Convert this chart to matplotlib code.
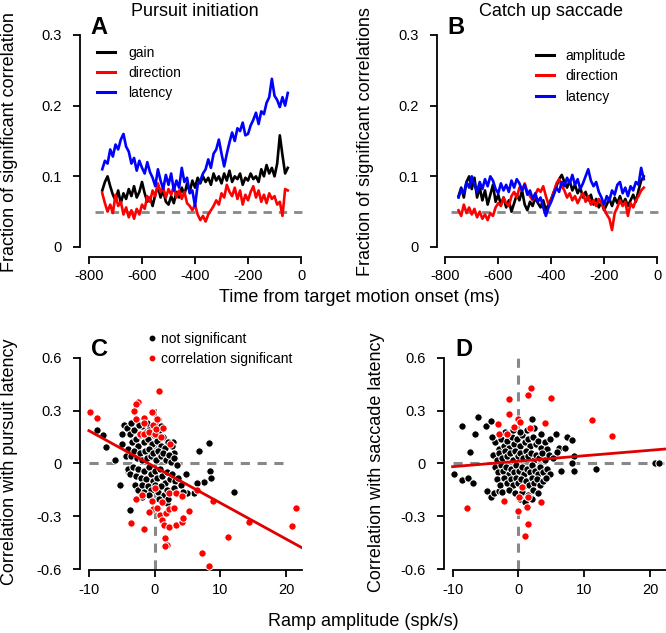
import matplotlib
matplotlib.use("Agg")
import matplotlib.pyplot as plt
from matplotlib.lines import Line2D
import numpy as np

plt.rcParams['font.family'] = ['Liberation Sans', 'DejaVu Sans']
plt.rcParams['axes.unicode_minus'] = False

W, H = 666, 633

# time axis of panels A and B (ms before target motion onset)
t_ms = np.arange(-750, -49, 10)

# panel A: pursuit initiation
a_gain = [0.080, 0.092, 0.100, 0.086, 0.074, 0.066, 0.080, 0.062, 0.076, 0.068,
          0.082, 0.072, 0.086, 0.070, 0.078, 0.092, 0.076, 0.064, 0.070, 0.058,
          0.074, 0.086, 0.070, 0.080, 0.064, 0.060, 0.072, 0.062, 0.078, 0.070,
          0.084, 0.074, 0.090, 0.078, 0.094, 0.084, 0.098, 0.090, 0.100, 0.092,
          0.098, 0.088, 0.104, 0.094, 0.100, 0.090, 0.104, 0.094, 0.108, 0.092,
          0.100, 0.096, 0.104, 0.088, 0.098, 0.094, 0.104, 0.096, 0.100, 0.092,
          0.110, 0.100, 0.116, 0.104, 0.112, 0.100, 0.118, 0.158, 0.130, 0.104,
          0.112]
a_direction = [0.076, 0.062, 0.050, 0.060, 0.048, 0.074, 0.058, 0.064, 0.046, 0.056,
               0.042, 0.052, 0.040, 0.054, 0.046, 0.060, 0.054, 0.072, 0.064, 0.080,
               0.072, 0.090, 0.078, 0.084, 0.070, 0.082, 0.074, 0.086, 0.070, 0.080,
               0.068, 0.078, 0.062, 0.058, 0.052, 0.060, 0.046, 0.038, 0.044, 0.036,
               0.046, 0.052, 0.058, 0.066, 0.060, 0.076, 0.070, 0.088, 0.078, 0.072,
               0.084, 0.068, 0.080, 0.060, 0.074, 0.066, 0.078, 0.086, 0.070, 0.080,
               0.064, 0.074, 0.062, 0.076, 0.068, 0.072, 0.060, 0.064, 0.044, 0.082,
               0.080]
a_latency = [0.110, 0.122, 0.118, 0.138, 0.128, 0.145, 0.138, 0.152, 0.160, 0.142,
             0.135, 0.118, 0.126, 0.108, 0.122, 0.112, 0.104, 0.120, 0.106, 0.098,
             0.086, 0.110, 0.094, 0.082, 0.102, 0.088, 0.104, 0.080, 0.094, 0.084,
             0.112, 0.092, 0.098, 0.076, 0.080, 0.058, 0.088, 0.094, 0.104, 0.110,
             0.124, 0.112, 0.132, 0.138, 0.152, 0.132, 0.114, 0.132, 0.148, 0.162,
             0.150, 0.168, 0.164, 0.176, 0.158, 0.160, 0.172, 0.180, 0.190, 0.174,
             0.192, 0.188, 0.204, 0.212, 0.238, 0.214, 0.208, 0.198, 0.212, 0.200,
             0.218]

# panel B: catch up saccade
b_amplitude = [0.072, 0.084, 0.070, 0.092, 0.100, 0.082, 0.098, 0.070, 0.084, 0.066,
               0.080, 0.060, 0.074, 0.088, 0.064, 0.074, 0.060, 0.070, 0.056, 0.066,
               0.050, 0.062, 0.074, 0.066, 0.080, 0.060, 0.052, 0.064, 0.058, 0.070,
               0.062, 0.056, 0.066, 0.052, 0.060, 0.068, 0.078, 0.086, 0.096, 0.102,
               0.092, 0.084, 0.094, 0.080, 0.088, 0.076, 0.084, 0.070, 0.078, 0.066,
               0.074, 0.060, 0.068, 0.056, 0.064, 0.052, 0.060, 0.068, 0.058, 0.070,
               0.062, 0.072, 0.060, 0.068, 0.058, 0.066, 0.074, 0.064, 0.080, 0.094,
               0.100]
b_direction = [0.052, 0.044, 0.060, 0.048, 0.056, 0.046, 0.054, 0.042, 0.050, 0.040,
               0.046, 0.038, 0.048, 0.044, 0.056, 0.062, 0.058, 0.070, 0.062, 0.058,
               0.072, 0.078, 0.070, 0.084, 0.080, 0.090, 0.078, 0.072, 0.066, 0.074,
               0.082, 0.078, 0.086, 0.072, 0.060, 0.066, 0.078, 0.090, 0.096, 0.086,
               0.080, 0.070, 0.076, 0.066, 0.072, 0.062, 0.070, 0.076, 0.064, 0.072,
               0.060, 0.066, 0.058, 0.068, 0.062, 0.054, 0.046, 0.040, 0.024, 0.048,
               0.056, 0.066, 0.058, 0.064, 0.044, 0.062, 0.056, 0.066, 0.072, 0.080,
               0.084]
b_latency = [0.070, 0.082, 0.076, 0.092, 0.084, 0.100, 0.088, 0.078, 0.092, 0.082,
             0.096, 0.086, 0.100, 0.094, 0.082, 0.076, 0.090, 0.080, 0.088, 0.078,
             0.094, 0.084, 0.096, 0.090, 0.080, 0.088, 0.074, 0.080, 0.068, 0.076,
             0.064, 0.070, 0.056, 0.044, 0.056, 0.064, 0.074, 0.084, 0.078, 0.092,
             0.086, 0.098, 0.090, 0.102, 0.088, 0.096, 0.082, 0.090, 0.100, 0.110,
             0.094, 0.086, 0.092, 0.078, 0.070, 0.060, 0.072, 0.066, 0.080, 0.074,
             0.088, 0.092, 0.076, 0.084, 0.072, 0.086, 0.080, 0.092, 0.088, 0.112,
             0.096]

chance_level = 0.05

# panel C: ramp amplitude vs correlation with pursuit latency
c_ns_x = [-8.7, -7.9, -7.4, -6.1, -5.3, -3.75, -4.6, -5.0, -4.9, -4.4, -4.0,
          6.7, 8.2, 8.4, 8.5, 12.0, 7.5, 6.5, 4.7, 6.0, 4.9, 1.9, 2.8, 0.5,
          -4.2, -3.8, -3.5, -3.2, -2.8, -2.5, -2.2, -1.9, -1.6, -1.3, -1.0, -0.7, -0.4, -0.1,
          0.3, 0.6, 0.9, 1.2, 1.6, 2.0, 2.6, 3.0,
          -4.0, -3.6, -3.1, -2.7, -2.3, -1.9, -1.5, -1.1, -0.8, -0.5, -0.2, 0.2, 0.5,
          0.9, 1.3, 1.7, 2.1, 2.5, 2.9, 3.4,
          -4.1, -3.7, -3.3, -2.9, -2.5, -2.1, -1.7, -1.3, -0.9, -0.6, -0.3, 0.1, 0.4,
          0.8, 1.1, 1.5, 1.9, 2.3, 2.7, 3.1, 3.6, 4.0,
          -3.0, -2.6, -2.0, -1.6, -1.0, -0.5, 0.0, 0.5, 1.0, 1.4, 1.9, 2.4, 2.9, 3.4, 4.3,
          -2.0, -0.8, 0.7, 2.0, -1.2, 0.2, -2.4, 1.0, -3.6]
c_ns_y = [0.19, 0.16, 0.095, 0.02, -0.12, -0.265, 0.22, 0.165, 0.11, 0.045, -0.04,
          0.07, 0.115, -0.04, -0.085, -0.16, -0.105, -0.11, -0.06, -0.17, -0.165, -0.225, 0.12, 0.255,
          0.20, 0.17, 0.12, 0.19, 0.14, 0.10, 0.16, 0.21, 0.12, 0.18, 0.14, 0.20, 0.11, 0.16,
          0.13, 0.19, 0.10, 0.15, 0.09, 0.12, 0.10, 0.06,
          0.08, 0.04, 0.07, 0.03, 0.06, 0.02, 0.07, 0.03, 0.08, 0.04, 0.06, 0.02, 0.07,
          0.04, 0.06, 0.02, 0.05, 0.01, 0.03, -0.01,
          -0.03, -0.06, -0.02, -0.07, -0.03, -0.08, -0.04, -0.09, -0.02, -0.06, -0.10, -0.04, -0.08,
          -0.03, -0.07, -0.11, -0.05, -0.09, -0.06, -0.10, -0.08, -0.12,
          -0.12, -0.15, -0.12, -0.16, -0.13, -0.15, -0.12, -0.16, -0.13, -0.18, -0.15, -0.17, -0.14, -0.17, -0.16,
          -0.19, -0.18, -0.20, -0.20, 0.23, 0.22, 0.22, 0.21, 0.23]
c_sig_x = [-9.9, -8.7, 0.7, -2.6, -2.8, -3.1, -2.9, -0.4, -1.6, -1.7, -0.2, 0.3,
           -2.3, -1.6, -0.9, 0.05, 1.0, 0.2, 1.3, 2.4,
           0.0, -2.9, -1.9, -0.4, -0.3, -0.8, 0.4, 1.1, 0.8, 1.7, 2.2, 3.0,
           1.1, 1.4, 2.1, 3.3, 4.2, 4.3, 5.2, 1.6, 1.8, 1.5, -3.6, -1.6,
           2.2, 3.3, 4.2, 6.5, 8.8, 14.3, 11.2, 7.2, 8.3, 20.8, 21.4]
c_sig_y = [0.29, 0.26, 0.41, 0.35, 0.34, 0.30, 0.25, 0.29, 0.26, 0.23, 0.22, 0.25,
           0.17, 0.165, 0.18, 0.17, 0.15, 0.195, 0.20, 0.11,
           -0.14, -0.20, -0.18, -0.21, -0.26, -0.275, -0.255, -0.22, -0.29, -0.28, -0.26, -0.25,
           -0.32, -0.35, -0.36, -0.35, -0.33, -0.31, -0.27, -0.42, -0.46, -0.47, -0.34, -0.37,
           -0.17, -0.165, -0.185, -0.15, -0.215, -0.33, -0.415, -0.505, -0.58, -0.355, -0.255]
c_fit = (-0.0205, -0.019)  # slope, intercept

# panel D: ramp amplitude vs correlation with saccade latency
d_ns_x = [-9.8, -8.5, -8.6, -7.7, -6.9, -7.4, -6.1, -6.6, -4.9, -4.2, -4.8, -4.2, -3.7, -2.9,
          5.7, 7.4, 8.1, 6.4, 8.5, 8.5, 11.8, 20.7, 21.3, 8.1, 2.1, 6.2, 7.0, 5.8, 4.6,
          -3.5, -3.0, -2.6, -2.2, -1.8, -1.4, -1.0, -0.6, -0.2, 0.2, 0.6, 1.0, 1.4, 1.8,
          2.2, 2.6, 3.0, 3.5, 4.0, 4.4,
          -3.8, -3.3, -2.9, -2.5, -2.1, -1.7, -1.3, -0.9, -0.5, -0.1, 0.3, 0.7, 1.1, 1.5,
          1.9, 2.3, 2.7, 3.1, 3.6, 4.1, 4.6, 5.2,
          -3.6, -3.1, -2.7, -2.3, -1.9, -1.5, -1.1, -0.7, -0.3, 0.1, 0.5, 0.9, 1.3, 1.7,
          2.1, 2.5, 2.9, 3.3, 3.8, 4.3, 4.8,
          -3.2, -2.8, -2.2, -1.8, -1.2, -0.8, -0.4, 0.0, 0.4, 0.8, 1.2, 1.6, 2.0, 2.4,
          2.8, 3.2, 3.7, 4.2,
          -2.5, -1.5, -0.5, 0.6, 1.4, 2.2, 3.0, 0.2, 1.0, 2.0, 1.3, 0.2, -0.8, 2.4,
          -2.0, 3.5, 4.8, -4.0]
d_ns_y = [-0.06, 0.21, -0.095, -0.08, -0.11, 0.065, 0.265, 0.17, 0.21, 0.24, -0.155, -0.19, -0.165, -0.155,
          0.17, 0.15, 0.135, -0.04, 0.045, -0.045, -0.03, 0.0, 0.0, 0.005, 0.25, 0.09, 0.09, 0.065, 0.04,
          0.12, 0.08, 0.14, 0.10, 0.13, 0.09, 0.15, 0.11, 0.14, 0.10, 0.16, 0.12, 0.14, 0.10,
          0.15, 0.11, 0.13, 0.09, 0.12, 0.08,
          0.05, 0.02, 0.06, 0.03, 0.07, 0.04, 0.06, 0.02, 0.07, 0.04, 0.06, 0.03, 0.07, 0.04,
          0.06, 0.02, 0.05, 0.03, 0.06, 0.02, 0.05, 0.03,
          -0.02, -0.05, -0.01, -0.04, -0.02, -0.06, -0.03, -0.05, -0.01, -0.04, -0.02, -0.06, -0.03, -0.05,
          -0.01, -0.04, -0.06, -0.02, -0.05, -0.03, -0.06,
          -0.09, -0.12, -0.08, -0.11, -0.09, -0.12, -0.08, -0.11, -0.09, -0.13, -0.10, -0.12, -0.08, -0.11,
          -0.09, -0.12, -0.10, -0.08,
          -0.16, -0.15, -0.17, -0.16, -0.18, -0.15, -0.17, -0.20, -0.22, -0.20, 0.19, 0.18, 0.19, 0.20,
          0.18, 0.17, 0.14, 0.15]
d_sig_x = [1.9, 1.5, -1.5, 5.0, 11.1, 14.2, -1.4, -0.1, 0.2, -3.1, -0.65, 1.8, 4.0,
           -3.0, -1.8, -7.8, -2.2, 0.6, 0.1, 1.4, 3.5, 0.0, 1.3, 1.5, 1.0]
d_sig_y = [0.43, 0.39, 0.365, 0.37, 0.245, 0.155, 0.28, 0.255, 0.235, 0.225, 0.205, 0.20, 0.23,
           0.165, 0.165, -0.25, -0.21, -0.135, -0.19, -0.19, -0.22, -0.27, -0.245, -0.345, -0.41]
d_fit = (0.0031, 0.013)


def px_rect(left, top, right, bottom):
    return [left / W, 1 - bottom / H, (right - left) / W, (bottom - top) / H]


def fpos(x, y):
    return x / W, 1 - y / H


def style_axis(ax):
    for s in ['top', 'right']:
        ax.spines[s].set_visible(False)
    for s in ['left', 'bottom']:
        ax.spines[s].set_linewidth(1.3)
    ax.tick_params(direction='out', length=5, width=1.3, labelsize=10.5)
    ax.tick_params(axis='y', pad=8)
    ax.tick_params(axis='x', pad=4)


fig = plt.figure(figsize=(W / 100, H / 100), dpi=100)
dash = (0, (3, 2.5))

# ---- time course panels ----
ts_panels = [
    (px_rect(80, 26.5, 309.5, 257), (-834, 32),
     [(a_gain, 'black', 'gain'), (a_direction, 'red', 'direction'), (a_latency, 'blue', 'latency')]),
    (px_rect(437, 26.5, 665.5, 257), (-831.4, 32),
     [(b_amplitude, 'black', 'amplitude'), (b_direction, 'red', 'direction'), (b_latency, 'blue', 'latency')]),
]
ts_axes = []
for rect, xl, series in ts_panels:
    ax = fig.add_axes(rect)
    # chance line only spans the sampled window
    ax.hlines(chance_level, -778, 2, color='#888888', lw=2, linestyles=dash, zorder=1)
    handles = []
    for vals, col, lab in series:
        ax.plot(t_ms, vals, color=col, lw=1.9, zorder=2)
        handles.append(Line2D([], [], color=col, lw=2.2, label=lab))
    ax.set_xlim(*xl)
    ax.set_ylim(-0.01415, 0.312)
    ax.set_xticks([-800, -600, -400, -200, 0])
    ax.set_yticks([0, 0.1, 0.2, 0.3])
    ax.set_yticklabels(['0', '0.1', '0.2', '0.3'])
    style_axis(ax)
    ax.spines['left'].set_bounds(0, 0.3)
    ax.spines['bottom'].set_bounds(-800, 0)
    ts_axes.append((ax, handles))

ax_a, h_a = ts_axes[0]
ax_b, h_b = ts_axes[1]
ax_a.legend(handles=h_a, loc='upper left', bbox_to_anchor=fpos(97, 46), bbox_transform=fig.transFigure,
            frameon=False, fontsize=10, handlelength=1.3, handletextpad=0.95, labelspacing=0.42,
            borderpad=0, borderaxespad=0)
ax_b.legend(handles=h_b, loc='upper left', bbox_to_anchor=fpos(536, 49), bbox_transform=fig.transFigure,
            frameon=False, fontsize=10, handlelength=1.3, handletextpad=0.8, labelspacing=0.45,
            borderpad=0, borderaxespad=0)

# ---- scatter panels ----
sc_panels = [
    (px_rect(80, 330, 301.7, 570), (-11.35, 22.34), c_ns_x, c_ns_y, c_sig_x, c_sig_y, c_fit, 0.35, 19.5),
    (px_rect(444, 330, 666, 570), (-11.3, 22.4), d_ns_x, d_ns_y, d_sig_x, d_sig_y, d_fit, 0.6, 22.4),
]
sc_axes = []
for rect, xl, nx, ny, sx, sy, fit, vtop, hend in sc_panels:
    ax = fig.add_axes(rect)
    ax.hlines(0, -10, hend, color='#888888', lw=2.2, linestyles=dash, zorder=1)
    ax.vlines(0, -0.6, vtop, color='#888888', lw=2.2, linestyles=dash, zorder=1)
    ax.scatter(nx, ny, s=28, c='black', edgecolors='white', linewidths=0.7, zorder=2)
    ax.scatter(sx, sy, s=28, c='red', edgecolors='white', linewidths=0.7, zorder=3)
    xs = np.array([-10, xl[1]])
    ax.plot(xs, fit[0] * xs + fit[1], color='#e00000', lw=2, zorder=4)
    ax.set_xlim(*xl)
    ax.set_ylim(-0.604, 0.757)
    ax.set_xticks([-10, 0, 10, 20])
    ax.set_yticks([-0.6, -0.3, 0, 0.3, 0.6])
    ax.set_yticklabels(['-0.6', '-0.3', '0', '0.3', '0.6'])
    style_axis(ax)
    ax.spines['left'].set_bounds(-0.6, 0.6)
    ax.spines['bottom'].set_bounds(-10, xl[1])
    sc_axes.append(ax)

leg_c = [Line2D([], [], ls='none', marker='o', ms=3.2, color='black', label='not significant'),
         Line2D([], [], ls='none', marker='o', ms=3.2, color='red', label='correlation significant')]
sc_axes[0].legend(handles=leg_c, loc='upper left', bbox_to_anchor=fpos(148, 332), bbox_transform=fig.transFigure,
                  frameon=False, fontsize=10, handlelength=0.6, handletextpad=0.35, labelspacing=0.42,
                  borderpad=0, borderaxespad=0)

# ---- text ----
for x, y, s in [(98.5, 27, 'A'), (455.5, 27, 'B'), (99.5, 349, 'C'), (464, 349, 'D')]:
    fig.text(*fpos(x, y), s, fontsize=17, fontweight='bold', ha='center', va='center')
fig.text(*fpos(194.7, 12), 'Pursuit initiation', fontsize=13, ha='center', va='center')
fig.text(*fpos(551, 12), 'Catch up saccade', fontsize=13, ha='center', va='center')
fig.text(*fpos(10, 142), 'Fraction of significant correlation', fontsize=13, rotation=90, ha='center', va='center')
fig.text(*fpos(365.5, 142), 'Fraction of significant correlations', fontsize=13, rotation=90, ha='center', va='center')
fig.text(*fpos(10, 462), 'Correlation with pursuit latency', fontsize=13, rotation=90, ha='center', va='center')
fig.text(*fpos(377, 462), 'Correlation with saccade latency', fontsize=13, rotation=90, ha='center', va='center')
fig.text(*fpos(359, 298), 'Time from target motion onset (ms)', fontsize=13, ha='center', va='center')
fig.text(*fpos(363, 621), 'Ramp amplitude (spk/s)', fontsize=13, ha='center', va='center')

fig.savefig('out.png', dpi=100)
